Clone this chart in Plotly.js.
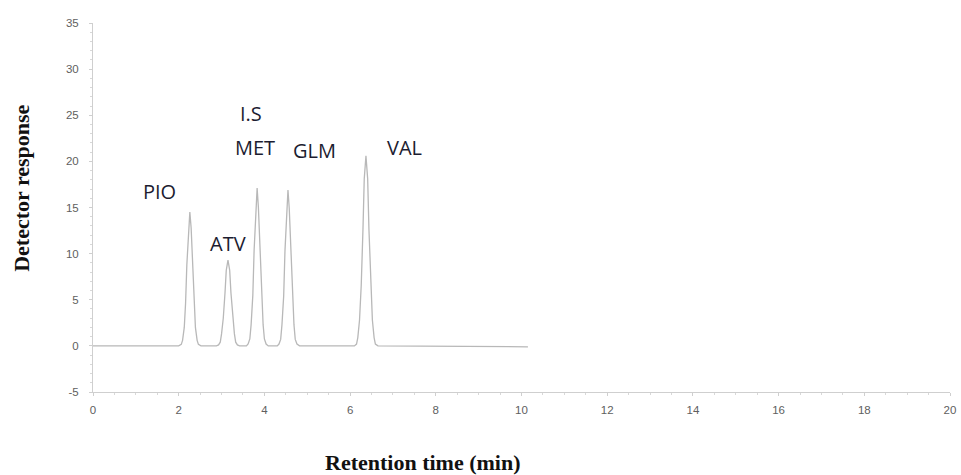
<!DOCTYPE html>
<html>
<head>
<meta charset="utf-8">
<script src="https://cdn.plot.ly/plotly-3.0.1.min.js"></script>
<style>html,body{margin:0;padding:0;background:#fff}#chart{width:961px;height:475px}</style>
</head>
<body>
<div id="chart"></div>
<script>
// Retention time (min) and detector response
const retentionTime = [
  0, 2.00,
  2.06,2.09,2.13,2.16,2.19,2.23,2.26,2.29,2.33,2.36,2.39,2.43,2.46,
  2.52, 2.88,
  2.93,2.97,3.00,3.04,3.08,3.11,3.15,3.19,3.22,3.26,3.30,3.33,3.37,
  3.42, 3.58,
  3.62,3.66,3.69,3.73,3.76,3.80,3.83,3.86,3.90,3.93,3.97,4.00,4.04,
  4.09, 4.30,
  4.34,4.38,4.41,4.45,4.48,4.52,4.55,4.58,4.62,4.65,4.69,4.72,4.76,
  4.82, 6.10,
  6.15,6.18,6.22,6.26,6.30,6.33,6.37,6.41,6.44,6.48,6.52,6.56,6.59,
  6.65, 10.15
];
const detectorResponse = [
  0, 0,
  0.16,0.6,2.0,4.6,8.8,12.8,14.5,12.8,8.8,4.6,2.0,0.6,0.16,
  0, 0,
  0.1,0.4,1.3,3.0,5.7,8.2,9.3,8.2,5.7,3.0,1.3,0.4,0.1,
  0, 0,
  0.2,0.75,2.3,5.5,10.4,15.0,17.1,15.0,10.4,5.5,2.3,0.75,0.2,
  0, 0,
  0.2,0.7,2.3,5.4,10.3,14.9,16.9,14.9,10.3,5.4,2.3,0.7,0.2,
  0, 0,
  0.2,0.9,2.8,6.6,12.6,18.1,20.6,18.1,12.6,6.6,2.8,0.9,0.2,
  0, -0.1
];
// Peak labels
const peakNames = ["PIO", "ATV", "I.S", "MET", "GLM", "VAL"];
const peakLabelX = [1.56, 3.15, 3.69, 3.78, 5.18, 7.26];
const peakLabelY = [16.7, 11.1, 25.2, 21.5, 21.2, 21.5];

const xTicks = [0,2,4,6,8,10,12,14,16,18,20];
const yTicks = [-5,0,5,10,15,20,25,30,35];

const annotations = peakNames.map((n, i) => ({
  x: peakLabelX[i], y: peakLabelY[i], xref: 'x', yref: 'y',
  text: n, showarrow: false,
  font: {family: 'Open Sans, Liberation Sans, sans-serif', size: 20, color: '#1c1c30'}
}));
annotations.push({
  xref: 'paper', yref: 'paper', x: -0.083, y: 0.553, xanchor: 'center', yanchor: 'middle',
  text: 'Detector response', textangle: -90, showarrow: false,
  font: {family: 'Liberation Serif, Times New Roman, serif', size: 22, color: '#111', weight: 'bold'}
});
annotations.push({
  xref: 'paper', yref: 'paper', x: 0.385, y: -0.192, xanchor: 'center', yanchor: 'middle',
  text: 'Retention time (min)', showarrow: false,
  font: {family: 'Liberation Serif, Times New Roman, serif', size: 22, color: '#111', weight: 'bold'}
});

const trace = {
  x: retentionTime, y: detectorResponse, type: 'scatter', mode: 'lines',
  line: {color: '#b8b8b8', width: 1.3}, hoverinfo: 'skip'
};

const axisCommon = {
  showgrid: false, zeroline: false, showline: true, linecolor: '#cfcfcf', linewidth: 1,
  ticks: 'outside', ticklen: 3, tickcolor: '#cfcfcf',
  tickfont: {family: 'Liberation Sans, Arial, sans-serif', size: 11.5, color: '#606060'}
};

const layout = {
  width: 961, height: 475,
  margin: {l: 93, r: 11, t: 23, b: 83},
  paper_bgcolor: '#fff', plot_bgcolor: '#fff',
  showlegend: false,
  xaxis: Object.assign({}, axisCommon, {
    range: [0, 20], tickvals: xTicks, ticktext: xTicks.map(String),
    ticklabelstandoff: 4,
    minor: {dtick: 0.5, ticks: 'outside', ticklen: 2, tickcolor: '#d8d8d8'}
  }),
  yaxis: Object.assign({}, axisCommon, {
    range: [-5, 35], tickvals: yTicks, ticktext: yTicks.map(String),
    ticklabelstandoff: 8,
    minor: {dtick: 1, ticks: 'outside', ticklen: 2, tickcolor: '#d8d8d8'}
  }),
  annotations: annotations
};

Plotly.newPlot('chart', [trace], layout, {displayModeBar: false, staticPlot: true});
</script>
</body>
</html>
